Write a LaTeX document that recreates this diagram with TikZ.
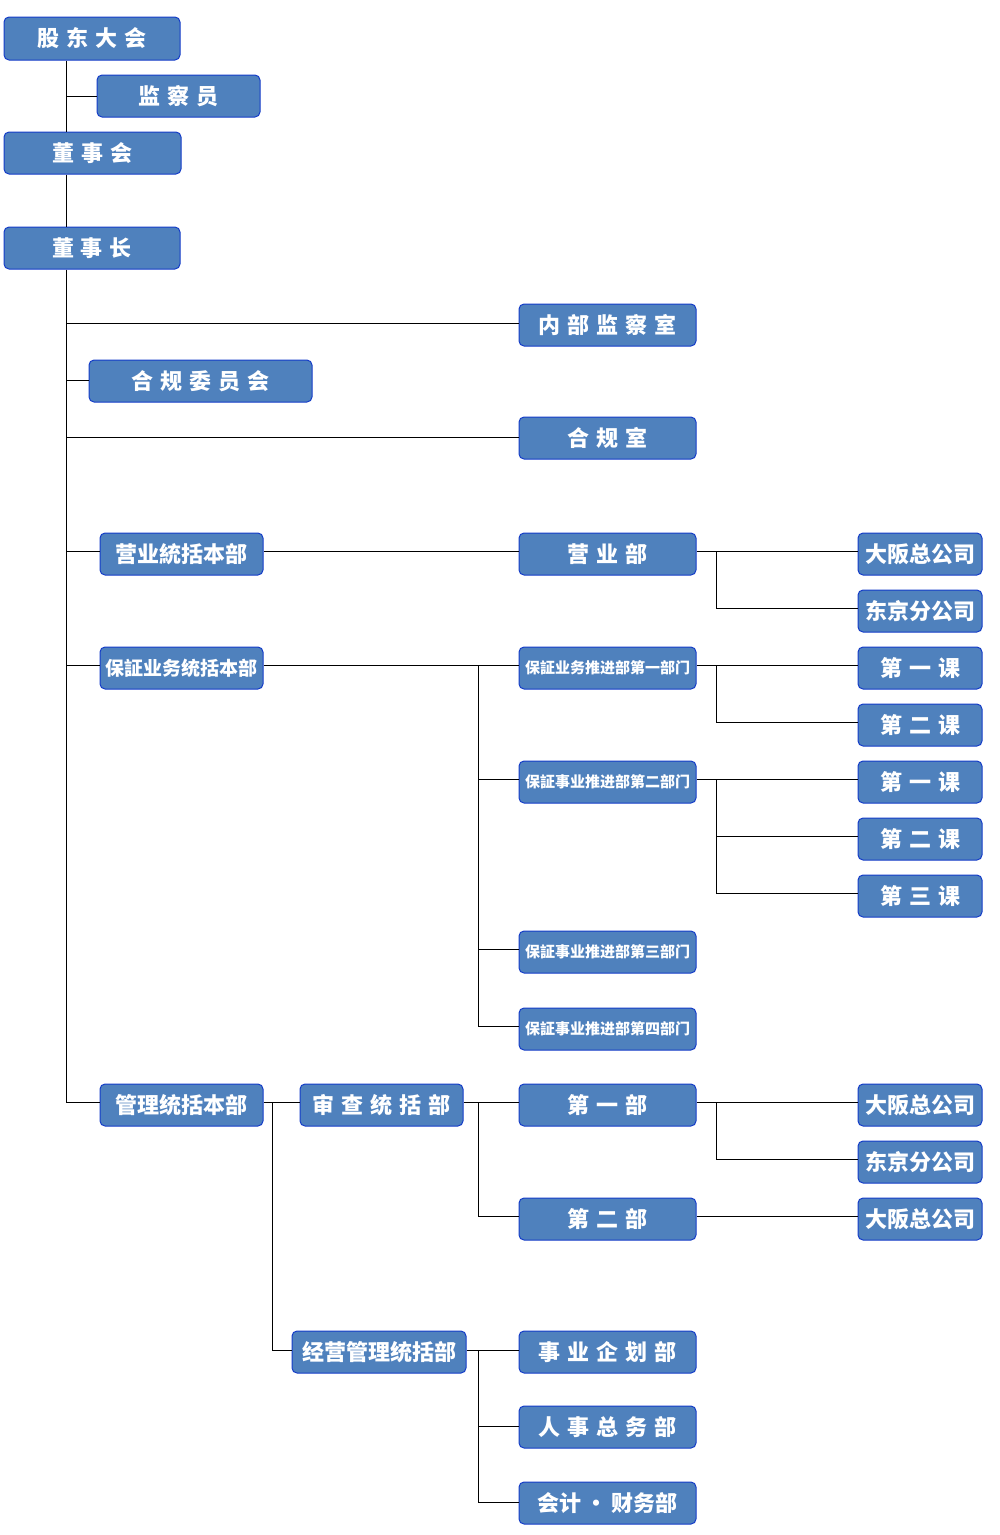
\documentclass[tikz,border=0pt]{standalone}
\usepackage{fontspec}
\newfontfamily\cjk{Noto Sans CJK SC}
\definecolor{boxfill}{RGB}{79,129,189}
\definecolor{boxline}{RGB}{20,60,200}
\newcommand\gp{\hspace{7pt}}
\tikzset{
  box/.style={draw=boxline, fill=boxfill, line width=1pt, rounded corners=5pt,
    minimum height=42pt, inner sep=0pt, text=white,
    font=\cjk\bfseries\fontsize{22}{24}\selectfont},
  bw/.style={minimum width=177pt},
  rw/.style={minimum width=124pt},
  mw/.style={minimum width=163pt},
  small/.style={font=\cjk\bfseries\fontsize{15}{17}\selectfont},
  mid/.style={font=\cjk\bfseries\fontsize{19}{21}\selectfont},
  conn/.style={draw=black, line width=1pt}
}
\begin{document}
\begin{tikzpicture}[x=1pt,y=-1pt]
\useasboundingbox (0,0) rectangle (1000,1535);
\coordinate (ta) at (66,0);
\coordinate (tb) at (716,0);
\coordinate (tc) at (478,0);
\coordinate (td) at (272,0);

\node[box, minimum width=176pt, minimum height=43pt] (gd) at (92,38.5) {股\gp 东\gp 大\gp 会};
\node[box, mw] (jcy) at (178.5,96) {监\gp 察\gp 员};
\node[box, bw] (dsh) at (92.5,153) {董\gp 事\gp 会};
\node[box, minimum width=176pt] (dsz) at (92,248) {董\gp 事\gp 长};
\node[box, bw] (nbjcs) at (607.5,325) {内\gp 部\gp 监\gp 察\gp 室};
\node[box, minimum width=223pt] (hgwyh) at (200.5,381) {合\gp 规\gp 委\gp 员\gp 会};
\node[box, bw] (hgs) at (607.5,438) {合\gp 规\gp 室};
\node[box, mw] (yytk) at (181.5,554) {营业統括本部};
\node[box, bw] (yyb) at (607.5,554) {营\gp 业\gp 部};
\node[box, rw] (osaka1) at (920,554) {大阪总公司};
\node[box, rw] (tokyo1) at (920,611) {东京分公司};
\node[box, mw, mid] (bztk) at (181.5,668) {保証业务统括本部};
\node[box, bw, small] (bz1) at (607.5,668) {保証业务推进部第一部门};
\node[box, rw] (k11) at (920,668) {第\gp 一\gp 课};
\node[box, rw] (k12) at (920,725) {第\gp 二\gp 课};
\node[box, bw, small] (bz2) at (607.5,782) {保証事业推进部第二部门};
\node[box, rw] (k21) at (920,782) {第\gp 一\gp 课};
\node[box, rw] (k22) at (920,839) {第\gp 二\gp 课};
\node[box, rw] (k23) at (920,896) {第\gp 三\gp 课};
\node[box, bw, small] (bz3) at (607.5,952) {保証事业推进部第三部门};
\node[box, bw, small] (bz4) at (607.5,1029) {保証事业推进部第四部门};
\node[box, mw] (gltk) at (181.5,1105) {管理统括本部};
\node[box, mw] (sctk) at (381.5,1105) {审\gp 查\gp 统\gp 括\gp 部};
\node[box, bw] (d1) at (607.5,1105) {第\gp 一\gp 部};
\node[box, rw] (osaka2) at (920,1105) {大阪总公司};
\node[box, rw] (tokyo2) at (920,1162) {东京分公司};
\node[box, bw] (d2) at (607.5,1219) {第\gp 二\gp 部};
\node[box, rw] (osaka3) at (920,1219) {大阪总公司};
\node[box, minimum width=174pt] (jygl) at (379,1352) {经营管理统括部};
\node[box, bw] (syqh) at (607.5,1352) {事\gp 业\gp 企\gp 划\gp 部};
\node[box, bw] (rszw) at (607.5,1427) {人\gp 事\gp 总\gp 务\gp 部};
\node[box, bw] (kjcw) at (607.5,1503) {会计\hspace{4pt}・\hspace{4pt}财务部};

% trunk
\draw[conn] (gd.south -| ta) -- (dsh.north -| ta);
\draw[conn] (dsh.south -| ta) -- (dsz.north -| ta);
\draw[conn] (dsz.south -| ta) -- ([yshift=2.5pt]gltk.west -| ta) -- ([yshift=2.5pt]gltk.west);
\draw[conn] (jcy.west -| ta) -- (jcy.west);
\draw[conn] ([yshift=2pt]nbjcs.west -| ta) -- ([yshift=2pt]nbjcs.west);
\draw[conn] ([yshift=1pt]hgwyh.west -| ta) -- ([yshift=1pt]hgwyh.west);
\draw[conn] ([yshift=1pt]hgs.west -| ta) -- ([yshift=1pt]hgs.west);
\draw[conn] ([yshift=2.5pt]yytk.west -| ta) -- ([yshift=2.5pt]yytk.west);
\draw[conn] ([yshift=2.5pt]bztk.west -| ta) -- ([yshift=2.5pt]bztk.west);
% sales
\draw[conn] ([yshift=2.5pt]yytk.east) -- ([yshift=2.5pt]yyb.west);
\draw[conn] ([yshift=2.5pt]yyb.east) -- ([yshift=2.5pt]osaka1.west);
\draw[conn] ([yshift=2.5pt]yyb.east -| tb) -- ([yshift=2.5pt]tokyo1.west -| tb) -- ([yshift=2.5pt]tokyo1.west);
% guarantee
\draw[conn] ([yshift=2.5pt]bztk.east) -- ([yshift=2.5pt]bz1.west);
\draw[conn] ([yshift=2.5pt]bz1.west -| tc) -- ([yshift=2.5pt]bz4.west -| tc) -- ([yshift=2.5pt]bz4.west);
\draw[conn] ([yshift=2.5pt]bz2.west -| tc) -- ([yshift=2.5pt]bz2.west);
\draw[conn] ([yshift=2.5pt]bz3.west -| tc) -- ([yshift=2.5pt]bz3.west);
\draw[conn] ([yshift=2.5pt]bz1.east) -- ([yshift=2.5pt]k11.west);
\draw[conn] ([yshift=2.5pt]bz1.east -| tb) -- ([yshift=2.5pt]k12.west -| tb) -- ([yshift=2.5pt]k12.west);
\draw[conn] ([yshift=2.5pt]bz2.east) -- ([yshift=2.5pt]k21.west);
\draw[conn] ([yshift=2.5pt]bz2.east -| tb) -- ([yshift=2.5pt]k23.west -| tb) -- ([yshift=2.5pt]k23.west);
\draw[conn] ([yshift=2.5pt]k22.west -| tb) -- ([yshift=2.5pt]k22.west);
% management
\draw[conn] ([yshift=2.5pt]gltk.east) -- ([yshift=2.5pt]sctk.west);
\draw[conn] ([yshift=2.5pt]gltk.east -| td) -- ([yshift=2pt]jygl.west -| td) -- ([yshift=2pt]jygl.west);
\draw[conn] ([yshift=2.5pt]sctk.east) -- ([yshift=2.5pt]d1.west);
\draw[conn] ([yshift=2.5pt]d1.west -| tc) -- ([yshift=2.5pt]d2.west -| tc) -- ([yshift=2.5pt]d2.west);
\draw[conn] ([yshift=2.5pt]d1.east) -- ([yshift=2.5pt]osaka2.west);
\draw[conn] ([yshift=2.5pt]d1.east -| tb) -- ([yshift=2.5pt]tokyo2.west -| tb) -- ([yshift=2.5pt]tokyo2.west);
\draw[conn] ([yshift=2.5pt]d2.east) -- ([yshift=2.5pt]osaka3.west);
\draw[conn] ([yshift=2pt]jygl.east) -- ([yshift=2pt]syqh.west);
\draw[conn] ([yshift=2pt]syqh.west -| tc) -- ([yshift=1pt]kjcw.west -| tc) -- ([yshift=1pt]kjcw.west);
\draw[conn] ([yshift=1pt]rszw.west -| tc) -- ([yshift=1pt]rszw.west);
\end{tikzpicture}
\end{document}
